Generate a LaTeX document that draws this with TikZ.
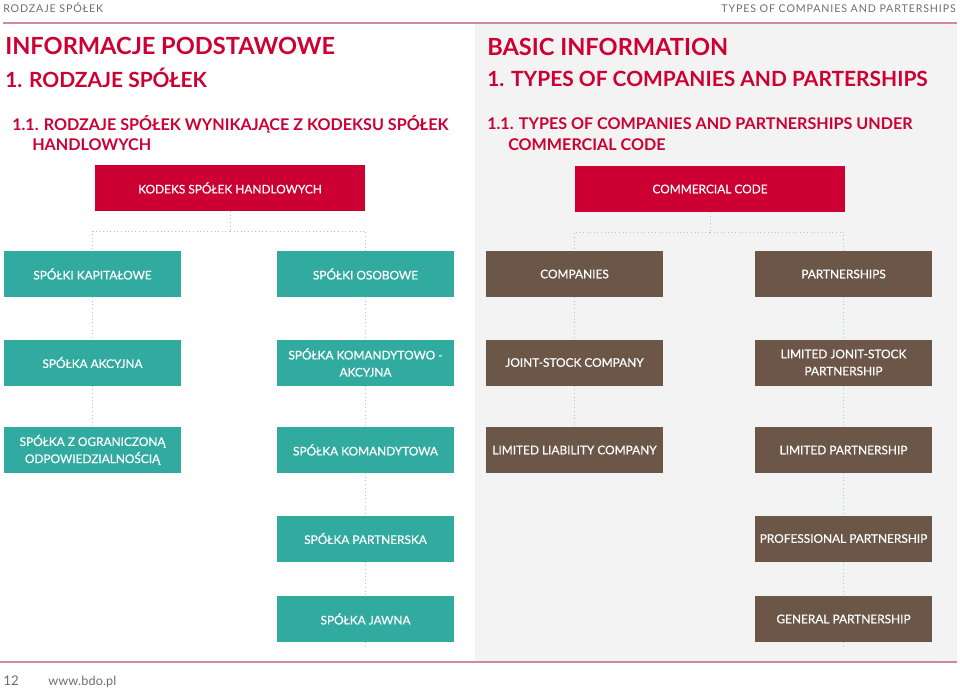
\documentclass[tikz,border=0pt]{standalone}
\usepackage{fontspec}
\setmainfont{Lato}
\definecolor{bdored}{HTML}{CC0033}
\definecolor{bdoteal}{HTML}{31ABA0}
\definecolor{bdobrown}{HTML}{6B5647}
\definecolor{panelgray}{HTML}{F3F3F3}
\definecolor{linkblue}{HTML}{A6CBD8}
\definecolor{rulepink}{HTML}{D08A9B}
\definecolor{headgray}{HTML}{6E6E6E}
\tikzstyle{codebox}=[rectangle,fill=bdored,text=white,minimum height=34.5pt,minimum width=202.5pt,font=\fontsize{8.9}{12.8}\selectfont\addfontfeature{FakeBold=0.6}]
\tikzstyle{plbox}=[rectangle,fill=bdoteal,text=white,minimum height=34.5pt,minimum width=132.75pt,align=center,font=\fontsize{8.9}{12.8}\selectfont\addfontfeature{FakeBold=0.6}]
\tikzstyle{enbox}=[rectangle,fill=bdobrown,text=white,minimum height=34.5pt,minimum width=132.75pt,align=center,font=\fontsize{8.9}{12.8}\selectfont\addfontfeature{FakeBold=0.6}]
\tikzstyle{conn}=[draw=linkblue,line width=0.7pt,dotted]
\tikzstyle{title}=[anchor=base west,inner sep=0pt,text=bdored,font=\bfseries\fontsize{17.7}{20}\selectfont]
\tikzstyle{chapter}=[anchor=base west,inner sep=0pt,text=bdored,font=\bfseries\fontsize{15.7}{19}\selectfont]
\tikzstyle{subtitle}=[anchor=base west,inner sep=0pt,text=bdored,font=\bfseries\fontsize{12.1}{15}\selectfont]
\tikzstyle{running}=[inner sep=0pt,text=headgray,font=\fontsize{8}{10}\selectfont\addfontfeature{LetterSpace=8}]

\begin{document}
\begin{tikzpicture}[x=0.75pt,y=-0.75pt,inner sep=1mm]
	\useasboundingbox (0,0) rectangle (960,689);
	\fill[panelgray] (475,24) rectangle (957,662);
	\draw[rulepink,line width=0.8pt] (3,23) -- (957,23);
	\draw[rulepink,line width=0.8pt] (0,662) -- (957,662);
	
	% running head and foot
	\node[running, anchor=base west] (headpl) at (3,12) {RODZAJE SPÓŁEK};
	\node[running, anchor=base east] (headen) at (956,12) {TYPES OF COMPANIES AND PARTERSHIPS};
	\node[inner sep=0pt, anchor=base west, text=headgray, font=\fontsize{10}{12}\selectfont] (page) at (3,685) {12};
	\node[inner sep=0pt, anchor=base west, text=headgray, font=\fontsize{9.5}{12}\selectfont\addfontfeature{LetterSpace=1}] (www) at (48,685) {www.bdo.pl};
	
	% titles
	\node[title] (t1pl) at (5,54) {INFORMACJE PODSTAWOWE};
	\node[chapter] (t2pl) at (5,87) {1. RODZAJE SPÓŁEK};
	\node[subtitle] (t3pl) at (12,130) {1.1. RODZAJE SPÓŁEK WYNIKAJĄCE Z KODEKSU SPÓŁEK};
	\node[subtitle] (t4pl) at (32,150) {HANDLOWYCH};
	\node[title] (t1en) at (487,55) {BASIC INFORMATION};
	\node[chapter] (t2en) at (487,86) {1. TYPES OF COMPANIES AND PARTERSHIPS};
	\node[subtitle] (t3en) at (487,129) {1.1. TYPES OF COMPANIES AND PARTNERSHIPS UNDER};
	\node[subtitle] (t4en) at (508,150) {COMMERCIAL CODE};
	
	% polish tree
	\node[codebox] (ksh) at (230,188) {KODEKS SPÓŁEK HANDLOWYCH};
	\node[plbox] (kap) at (92.5,274) {SPÓŁKI KAPITAŁOWE};
	\node[plbox] (oso) at (365.5,274) {SPÓŁKI OSOBOWE};
	\node[plbox] (sa) at (92.5,362.5) {SPÓŁKA AKCYJNA};
	\node[plbox] (ska) at (365.5,362.5) {SPÓŁKA KOMANDYTOWO -\\AKCYJNA};
	\node[plbox] (zoo) at (92.5,450) {SPÓŁKA Z OGRANICZONĄ\\ODPOWIEDZIALNOŚCIĄ};
	\node[plbox] (sk) at (365.5,450) {SPÓŁKA KOMANDYTOWA};
	\node[plbox] (sp) at (365.5,538.5) {SPÓŁKA PARTNERSKA};
	\node[plbox] (sj) at (365.5,619) {SPÓŁKA JAWNA};
	\coordinate (splitpl) at (230,231);
	\coordinate (endpl) at (365.5,648);
	
	\draw[conn] (ksh) -- (splitpl);
	\draw[conn] (splitpl) -| (kap);
	\draw[conn] (splitpl) -| (oso);
	\draw[conn] (kap) -- (sa);
	\draw[conn] (sa) -- (zoo);
	\draw[conn] (oso) -- (ska);
	\draw[conn] (ska) -- (sk);
	\draw[conn] (sk) -- (sp);
	\draw[conn] (sp) -- (sj);
	\draw[conn] (sj) -- (endpl);
	
	% english tree
	\node[codebox] (cc) at (710,189) {COMMERCIAL CODE};
	\node[enbox] (comp) at (574.5,274) {COMPANIES};
	\node[enbox] (part) at (843.5,274) {PARTNERSHIPS};
	\node[enbox] (jsc) at (574.5,362.5) {JOINT-STOCK COMPANY};
	\node[enbox] (ljsp) at (843.5,362.5) {LIMITED JONIT-STOCK\\PARTNERSHIP};
	\node[enbox] (llc) at (574.5,450) {LIMITED LIABILITY COMPANY};
	\node[enbox] (lp) at (843.5,450) {LIMITED PARTNERSHIP};
	\node[enbox] (pp) at (843.5,538.5) {PROFESSIONAL PARTNERSHIP};
	\node[enbox] (gp) at (843.5,619) {GENERAL PARTNERSHIP};
	\coordinate (spliten) at (710,232);
	\coordinate (enden) at (843.5,648);
	
	\draw[conn] (cc) -- (spliten);
	\draw[conn] (spliten) -| (comp);
	\draw[conn] (spliten) -| (part);
	\draw[conn] (comp) -- (jsc);
	\draw[conn] (jsc) -- (llc);
	\draw[conn] (part) -- (ljsp);
	\draw[conn] (ljsp) -- (lp);
	\draw[conn] (lp) -- (pp);
	\draw[conn] (pp) -- (gp);
	\draw[conn] (gp) -- (enden);
\end{tikzpicture}
\end{document}
